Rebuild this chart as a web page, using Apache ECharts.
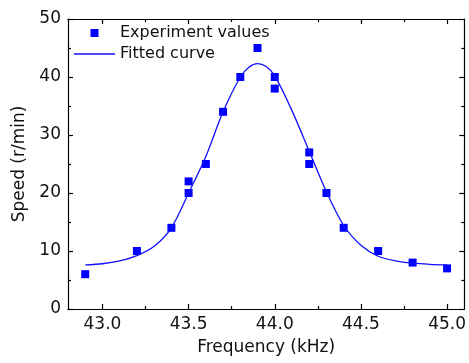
<!DOCTYPE html>
<html>
<head>
<meta charset="utf-8">
<script src="https://cdn.jsdelivr.net/npm/echarts@6/dist/echarts.min.js"></script>
<style>html,body{margin:0;padding:0;background:#fff}#c{width:469px;height:363px}</style>
</head>
<body>
<div id="c"></div>
<script>
const xMajorTicks = [43.0, 43.5, 44.0, 44.5, 45.0];
const xMinorTicks = [43.25, 43.75, 44.25, 44.75];
const expFreq  = [42.9, 43.2, 43.4, 43.5, 43.5, 43.6, 43.7, 43.8, 43.9, 44.0, 44.0, 44.2, 44.2, 44.3, 44.4, 44.6, 44.8, 45.0];
const expSpeed = [6, 10, 14, 22, 20, 25, 34, 40, 45, 40, 38, 27, 25, 20, 14, 10, 8, 7];
const fitFreq  = [42.9, 43.0, 43.1, 43.2, 43.3, 43.4, 43.5, 43.6, 43.7, 43.8, 43.85, 43.9, 43.95, 44.0, 44.1, 44.2, 44.3, 44.4, 44.5, 44.6, 44.7, 44.8, 44.9, 45.0];
const fitSpeed = [7.6, 7.8, 8.3, 9.2, 10.8, 14.0, 20.0, 26.3, 34.0, 40.0, 41.7, 42.3, 41.8, 40.2, 34.2, 27.2, 20.2, 14.4, 11.0, 9.1, 8.3, 7.9, 7.7, 7.6];

const FONT = 'DejaVu Sans';
const AX = '#000';
const chart = echarts.init(document.getElementById('c'), null, {renderer: 'canvas'});

function xAx(pos, ticks, len, label, extra) {
  return Object.assign({
    type: 'value', position: pos, min: 42.8, max: 45.1,
    axisLine: {show: true, onZero: false, lineStyle: {color: AX, width: 1.2}},
    axisTick: {show: true, inside: true, length: len, customValues: ticks, lineStyle: {color: AX, width: 1.2}},
    axisLabel: label ? {show: true, customValues: ticks, margin: 7, color: '#111', fontFamily: FONT, fontSize: 17,
      formatter: v => v.toFixed(1)} : {show: false},
    splitLine: {show: false}
  }, extra || {});
}
function yAx(pos, label, extra) {
  return Object.assign({
    type: 'value', position: pos, min: 0, max: 50, interval: 10,
    axisLine: {show: true, onZero: false, lineStyle: {color: AX, width: 1.2}},
    axisTick: {show: true, inside: true, length: 5, lineStyle: {color: AX, width: 1.2}},
    minorTick: {show: true, splitNumber: 2, length: 3, lineStyle: {color: AX, width: 1.2}},
    axisLabel: label ? {show: true, margin: 7, color: '#111', fontFamily: FONT, fontSize: 17} : {show: false},
    splitLine: {show: false}
  }, extra || {});
}

chart.setOption({
  animation: false,
  backgroundColor: '#fff',
  grid: {left: 68, right: 4, top: 19, bottom: 54, containLabel: false},
  legend: {
    orient: 'vertical', left: 74, top: 25, padding: 0, itemGap: 5,
    itemWidth: 41, itemHeight: 8, symbolKeepAspect: true,
    textStyle: {fontFamily: FONT, fontSize: 16, color: '#111', padding: [0,0,0,0]},
    data: [
      {name: 'Experiment values', icon: 'path://M0,0H1V1H0Z', itemStyle: {color: '#0000ff', opacity: 1}},
      {name: 'Fitted curve', icon: 'path://M0,0H41V1.3H0Z', itemStyle: {color: '#1010ff'}}
    ]
  },
  xAxis: [
    xAx('bottom', xMajorTicks, 5, true, {name: 'Frequency (kHz)', nameLocation: 'middle', nameGap: 30,
      nameTextStyle: {fontFamily: FONT, fontSize: 17, color: '#111'}}),
    xAx('bottom', xMinorTicks, 3, false),
    xAx('top', xMajorTicks, 5, false),
    xAx('top', xMinorTicks, 3, false)
  ],
  yAxis: [
    yAx('left', true, {name: 'Speed (r/min)', nameLocation: 'middle', nameGap: 31,
      nameTextStyle: {fontFamily: FONT, fontSize: 17, color: '#111'}}),
    yAx('right', false)
  ],
  series: [
    {
      name: 'Experiment values', type: 'scatter', xAxisIndex: 0, yAxisIndex: 0,
      symbol: 'rect', symbolSize: 8, itemStyle: {color: '#0000ff', opacity: 1},
      data: expFreq.map((f, i) => [f, expSpeed[i]]), z: 2
    },
    {
      name: 'Fitted curve', type: 'line', xAxisIndex: 0, yAxisIndex: 0,
      smooth: 0.3, showSymbol: false, symbol: 'none',
      lineStyle: {color: '#1010ff', width: 1.3}, itemStyle: {color: '#1010ff'},
      data: fitFreq.map((f, i) => [f, fitSpeed[i]]), z: 3
    }
  ]
});
</script>
</body>
</html>
